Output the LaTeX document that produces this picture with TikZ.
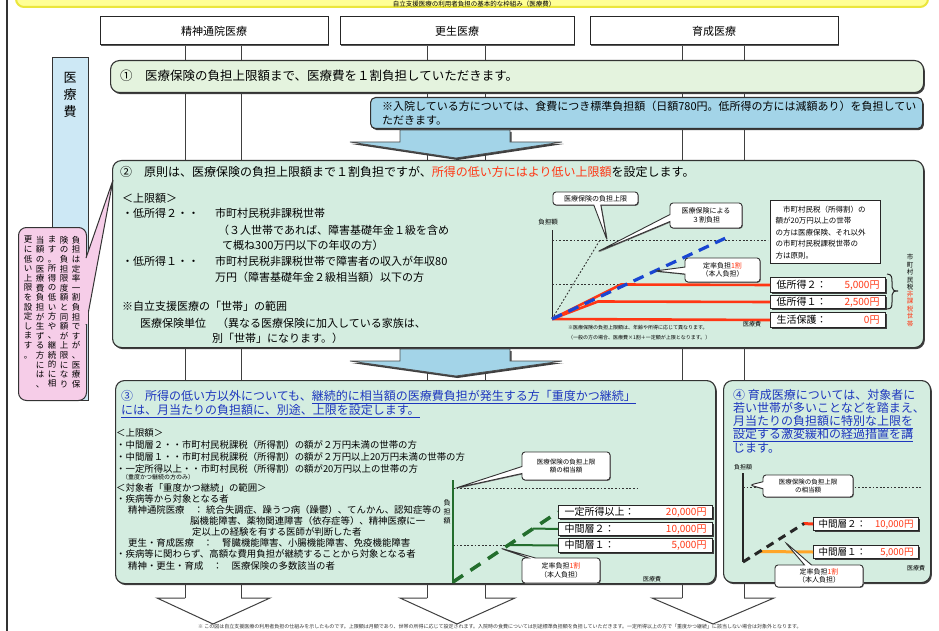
\documentclass[tikz,border=0pt]{standalone}
\usepackage{fontspec}
\setmainfont{Noto Sans CJK JP}
\usetikzlibrary{shapes.callouts,shadows}
\definecolor{mint}{RGB}{212,237,224}
\definecolor{paleg}{RGB}{228,243,222}
\definecolor{lblue}{RGB}{163,212,232}
\definecolor{stripb}{RGB}{205,232,245}
\definecolor{pinkc}{RGB}{246,205,232}
\definecolor{redt}{RGB}{255,55,20}
\definecolor{bluet}{RGB}{30,55,190}
\definecolor{dashb}{RGB}{25,70,210}
\definecolor{dgreen}{RGB}{35,110,45}
\definecolor{bannery}{RGB}{255,255,150}
\definecolor{bannerb}{RGB}{235,230,60}
\definecolor{orng}{RGB}{255,165,40}
\newcommand\fsz[1]{\fontsize{#1}{#1}\selectfont}
\makeatletter
\newtoks\vtxt@toks
\def\vtxtend{VTXTEND}
\newcommand\vtxt[1]{\vtxt@first#1\vtxtend}
\def\vtxt@first#1{\vtxt@toks{#1}\vtxt@a}
\def\vtxt@a#1{\ifx#1\vtxtend\expandafter\vtxt@done\else\vtxt@toks\expandafter{\the\vtxt@toks\\#1}\expandafter\vtxt@a\fi}
\def\vtxt@done{\the\vtxt@toks}
\makeatother
\begin{document}
\begin{tikzpicture}[x=1pt,y=-1pt,
  colline/.style={black!75,line width=1pt},
  panel/.style={draw=black!80,line width=1.1pt,rounded corners=9pt,drop shadow={shadow xshift=1.3pt,shadow yshift=-1.6pt,fill=black!75,opacity=1}},
  hdrbox/.style={draw=black!85,fill=white,line width=1pt,minimum height=28pt,font=\fsz{11},drop shadow={shadow xshift=1pt,shadow yshift=-1.2pt,fill=black!65,opacity=1}},
  txt/.style={anchor=west,inner sep=0pt},
  vstyle/.style={align=center,inner sep=0pt},
  callbox/.style={rectangle callout,draw=black!80,line width=0.9pt,fill=white,rounded corners=3pt,align=center,inner sep=1pt,font=\fontsize{7}{8.5}\selectfont,callout pointer width=7pt,drop shadow={shadow xshift=0.8pt,shadow yshift=-0.8pt,fill=black!60,opacity=1}},
  valbox/.style={draw=black!85,line width=1pt,fill=white,anchor=north west,inner xsep=6pt,inner ysep=0pt,font=\fsz{10},drop shadow={shadow xshift=1.2pt,shadow yshift=-1.2pt,fill=black!75,opacity=1}},
  dotline/.style={black!80,line width=0.9pt,dash pattern=on 1.8pt off 1.8pt},
  bluedash/.style={dashb,line width=3.2pt,dash pattern=on 11pt off 7pt},
  redline/.style={redt,line width=2.6pt},
  greendash/.style={dgreen,line width=3.5pt,dash pattern=on 12pt off 9pt},
  greenline/.style={dgreen,line width=2pt},
  blackdash/.style={black!85,line width=3pt,dash pattern=on 8pt off 6pt},
  bluearrow/.style={fill=lblue,draw=black!70,line width=0.8pt,drop shadow={shadow xshift=1.5pt,shadow yshift=-2pt,fill=black!75,opacity=1}},
  openarrow/.style={black!75,line width=1pt,line join=miter},
]
\useasboundingbox (0,0) rectangle (939,631);
\clip (0,0) rectangle (939,631);
\fill[white] (0,0) rectangle (939,631);

% banner
\node[draw=bannerb,line width=2pt,fill=bannery,rounded corners=8pt,minimum width=912pt,minimum height=40pt,anchor=south west] (banner) at (15,8) {};
\node[anchor=base,inner sep=0pt,font=\fsz{6.5}] (bannertxt) at (474,6.2) {自立支援医療の利用者負担の基本的な枠組み（医療費）};

% frame
\draw[black!80,line width=1.2pt] (7,0) -- (7,631);

% column lines
\foreach \xx in {185,241,427,485,682,744} \draw[colline] (\xx,44) -- (\xx,598);

% headers
\node[hdrbox,minimum width=228pt] (h1) at (214,31) {精神通院医療};
\node[hdrbox,minimum width=234pt] (h2) at (457,31) {更生医療};
\node[hdrbox,minimum width=248pt] (h3) at (714,31) {育成医療};

% strip
\node[draw=black!80,line width=1pt,fill=stripb,minimum width=36pt,minimum height=343pt,anchor=north west,inner sep=0pt] (strip) at (52,57) {};
\node[vstyle,font=\fontsize{13}{17}\selectfont,anchor=north] (striptxt) at (70,72) {\vtxt{医療費}};

% panel 1
\node[panel,fill=paleg,minimum width=813pt,minimum height=32pt,anchor=north west] (p1) at (110,60) {};
\node[txt,font=\fsz{12.5}] (p1t) at (120,76) {①　医療保険の負担上限額まで、医療費を１割負担していただきます。};

\node[panel,fill=lblue,rounded corners=5pt,minimum width=552pt,minimum height=31pt,anchor=north west] (p1b) at (370,97) {};
\node[txt,font=\fsz{11}] (p1bt1) at (382,106) {※入院している方については、食費につき標準負担額（日額780円。低所得の方には減額あり）を負担してい};
\node[txt,font=\fsz{11}] (p1bt2) at (382,120) {ただきます。};

\path[bluearrow] (400,130) -- (510,130) -- (510,142) -- (562,142) -- (456,158) -- (350,142) -- (400,142) -- cycle;

% panel 2
\node[panel,fill=mint,minimum width=811pt,minimum height=187pt,anchor=north west] (p2) at (112,160) {};
\node[txt,font=\fsz{12}] (p2t) at (120,172) {②　原則は、医療保険の負担上限額まで１割負担ですが、\textcolor{redt}{所得の低い方にはより低い上限額}を設定します。};
\node[txt,font=\fsz{11}] (p2a) at (122,198) {＜上限額＞};
\node[txt,font=\fsz{11}] (p2b) at (122,213) {・低所得２・・};
\node[txt,font=\fsz{11}] (p2b2) at (215,213) {市町村民税非課税世帯};
\node[txt,font=\fsz{11}] (p2c) at (218,230) {（３人世帯であれば、障害基礎年金１級を含め};
\node[txt,font=\fsz{11}] (p2d) at (222,245) {て概ね300万円以下の年収の方）};
\node[txt,font=\fsz{11}] (p2e) at (122,261) {・低所得１・・};
\node[txt,font=\fsz{11}] (p2e2) at (215,261) {市町村民税非課税世帯で障害者の収入が年収80};
\node[txt,font=\fsz{11}] (p2f) at (215,277) {万円（障害基礎年金２級相当額）以下の方};
\node[txt,font=\fsz{11}] (p2g) at (122,306) {※自立支援医療の「世帯」の範囲};
\node[txt,font=\fsz{11}] (p2h) at (140,323) {医療保険単位　（異なる医療保険に加入している家族は、};
\node[txt,font=\fsz{11}] (p2i) at (212,338) {別「世帯」になります。）};

% graph 2
\coordinate (o2) at (552,319);
\draw[black!85,line width=1pt] (552,230) -- (o2);
\node[font=\fsz{6.5},inner sep=0pt] (g2y) at (548,222) {負担額};
\draw[dotline] (552,240) -- (768,240);
\draw[dotline] (552,284.5) -- (625,284.5);
\draw[dotline] (o2) -- (600,240);
\node[valbox,text width=103pt,minimum height=15pt] (b2a) at (770,277) {低所得２：\hfill\textcolor{redt}{5,000円}};
\node[valbox,text width=103pt,minimum height=13pt] (b2b) at (770,295) {低所得１：\hfill\textcolor{redt}{2,500円}};
\node[valbox,text width=103pt,minimum height=15pt] (b2c) at (770,312) {生活保護：\hfill\textcolor{redt}{0円}};
\draw[redline] (o2) -- (621,284.5) -- (b2a.west);
\draw[redline] (o2) -- (598,301.5) -- (b2b.west);
\draw[redline] (o2) -- (b2c.west);
\draw[bluedash] (o2) -- (730,236);
\node[callbox,minimum width=85pt,minimum height=13pt,callout absolute pointer={(607,240)}] (c21) at (595.5,198.5) {医療保険の負担上限};
\node[callbox,minimum width=72pt,minimum height=25pt,callout absolute pointer={(597,252)}] (c22) at (706,215.5) {医療保険による\\３割負担};
\node[callbox,minimum width=75pt,minimum height=24pt,callout absolute pointer={(655,271)}] (c23) at (722.5,270) {定率負担\textcolor{redt}{1割}\\（本人負担）};
\node[draw=black!85,line width=1.3pt,fill=white,anchor=north west,minimum width=110pt,minimum height=63pt,text width=100pt,align=left,inner sep=4pt,font=\fontsize{7.5}{11.5}\selectfont] (wb) at (770,200) {　市町村民税（所得割）の\\額が20万円以上の世帯\\の方は医療保険、それ以外\\の市町村民税課税世帯の\\方は原則。};
\draw[black!85,line width=1pt] (887,274) .. controls (892,274) and (892,278) .. (892,282) -- (892,287) .. controls (892,290) and (894,291) .. (898,291) .. controls (894,291) and (892,292) .. (892,295) -- (892,302) .. controls (892,306) and (892,309) .. (887,309);
\node[vstyle,font=\fontsize{6.5}{7.5}\selectfont,anchor=north] (vl1) at (910,254) {\vtxt{市町村民税}};
\node[vstyle,font=\fontsize{6.5}{7.5}\selectfont,anchor=north,text=redt] (vl2) at (vl1.south) {\vtxt{非課税世帯}};
\node[txt,font=\fsz{5}] (g2n1) at (568,328) {※医療保険の負担上限額は、年齢や所得に応じて異なります。};
\node[txt,font=\fsz{5}] (g2n2) at (568,338) {（一般の方の場合、医療費×1割＋一定額が上限となります。）};
\node[font=\fsz{6},inner sep=0pt] (g2x) at (752,324) {医療費};

\path[bluearrow] (400,349) -- (510,349) -- (510,361) -- (562,361) -- (456,376) -- (350,361) -- (400,361) -- cycle;

% panel 3
\node[panel,fill=mint,minimum width=600pt,minimum height=203pt,anchor=north west] (p3) at (115,380) {};
\node[txt,text=bluet,font=\fsz{12}] (p3t1) at (121,397) {③　所得の低い方以外についても、\underline{継続的に相当額の医療費負担が発生する方「重度かつ継続」}};
\node[txt,text=bluet,font=\fsz{12}] (p3t2) at (121,411) {\underline{には、月当たりの負担額に、別途、上限を設定します。}};
\node[txt,font=\fsz{9.4}] (p3a) at (116,433) {＜上限額＞};
\node[txt,font=\fsz{9.4}] (p3b) at (116,445) {・中間層２・・市町村民税課税（所得割）の額が２万円未満の世帯の方};
\node[txt,font=\fsz{9.4}] (p3c) at (116,457) {・中間層１・・市町村民税課税（所得割）の額が２万円以上20万円未満の世帯の方};
\node[txt,font=\fsz{9.4}] (p3d) at (116,469) {・一定所得以上・・市町村民税（所得割）の額が20万円以上の世帯の方};
\node[txt,font=\fsz{6}] (p3e) at (122,477.5) {（重度かつ継続の方のみ）};
\node[txt,font=\fsz{9.4}] (p3f) at (116,488) {＜対象者「重度かつ継続」の範囲＞};
\node[txt,font=\fsz{9.4}] (p3g) at (116,499) {・疾病等から対象となる者};
\node[txt,font=\fsz{9.4}] (p3h) at (128,510) {精神通院医療　：};
\node[txt,font=\fsz{9.4}] (p3h2) at (206,510) {統合失調症、躁うつ病（躁鬱）、てんかん、認知症等の};
\node[txt,font=\fsz{9.4}] (p3i) at (190,521) {脳機能障害、薬物関連障害（依存症等）、精神医療に一};
\node[txt,font=\fsz{9.4}] (p3j) at (192,532) {定以上の経験を有する医師が判断した者};
\node[txt,font=\fsz{9.4}] (p3k) at (128,543) {更生・育成医療　：　腎臓機能障害、小腸機能障害、免疫機能障害};
\node[txt,font=\fsz{9.4}] (p3l) at (116,554) {・疾病等に関わらず、高額な費用負担が継続することから対象となる者};
\node[txt,font=\fsz{9.4}] (p3m) at (128,566) {精神・更生・育成　：　医療保険の多数該当の者};

% graph 3
\draw[dotline] (453,488) -- (638,488);
\draw[dotline] (453,545) -- (520,545);
\draw[dgreen,line width=1.6pt] (453,480) -- (453,583);
\node[vstyle,font=\fontsize{7}{9}\selectfont,anchor=north] (g3y) at (447,499) {\vtxt{負担額}};
\node[valbox,text width=142pt,minimum height=13pt] (b31) at (558,505) {一定所得以上：\hfill\textcolor{redt}{20,000円}};
\node[valbox,text width=142pt,minimum height=13pt] (b32) at (558,522) {中間層２：\hfill\textcolor{redt}{10,000円}};
\node[valbox,text width=142pt,minimum height=14pt] (b33) at (558,538) {中間層１：\hfill\textcolor{redt}{5,000円}};
\draw[greenline] (533,528.5) -- (b32.west);
\draw[greenline] (508,545) -- (b33.west);
\draw[greendash] (453,582) -- (b31.west);
\node[callbox,font=\fontsize{6.5}{8}\selectfont,minimum width=88pt,minimum height=28pt,callout absolute pointer={(456,488)}] (c31) at (566,466) {医療保険の負担上限\\額の相当額};
\node[callbox,minimum width=78pt,minimum height=25pt,callout absolute pointer={(500,548)}] (c32) at (561,570.5) {定率負担\textcolor{redt}{1割}\\（本人負担）};
\node[font=\fsz{6},inner sep=0pt] (g3x) at (652,579) {医療費};

% panel 4
\node[panel,fill=mint,minimum width=207pt,minimum height=202pt,anchor=north west] (p4) at (723,380) {};
\node[txt,text=bluet,font=\fsz{12}] (p4t1) at (733,395) {④ 育成医療については、対象者に};
\node[txt,text=bluet,font=\fsz{12}] (p4t2) at (733,408) {若い世帯が多いことなどを踏まえ、};
\node[txt,text=bluet,font=\fsz{12}] (p4t3) at (733,422) {\underline{月当たりの負担額に特別な上限を}};
\node[txt,text=bluet,font=\fsz{12}] (p4t4) at (733,435) {\underline{設定する激変緩和の経過措置を講}};
\node[txt,text=bluet,font=\fsz{12}] (p4t5) at (733,448) {じます。};

% graph 4
\draw[black!85,line width=1.2pt] (743,473) -- (743,562);
\node[font=\fsz{6},inner sep=0pt] (g4y) at (743,467) {負担額};
\draw[dotline] (743,487) -- (922,487);
\node[valbox,inner xsep=5pt,font=\fsz{9.5},text width=95pt,minimum height=13pt] (b41) at (813,517) {中間層２：\hfill\textcolor{redt}{10,000円}};
\node[valbox,inner xsep=5pt,font=\fsz{9.5},text width=95pt,minimum height=13pt] (b42) at (813,545) {中間層１：\hfill\textcolor{redt}{5,000円}};
\draw[orng,line width=3pt] (760,551.5) -- (b42.west);
\draw[redt,line width=3pt] (803,523.5) -- (b41.west);
\draw[blackdash] (743,562) -- (804,523.5);
\node[callbox,font=\fontsize{6.5}{8}\selectfont,minimum width=90pt,minimum height=22pt,callout absolute pointer={(750,485)}] (c41) at (808,486) {医療保険の負担上限\\の相当額};
\node[callbox,minimum width=88pt,minimum height=22pt,callout absolute pointer={(785,542)}] (c42) at (819,576) {定率負担\textcolor{redt}{1割}\\（本人負担）};
\node[font=\fsz{6},inner sep=0pt] (g4x) at (916,568) {医療費};

% pink callout
\node[draw=black!80,line width=1pt,fill=pinkc,rounded corners=8pt,minimum width=68pt,minimum height=173pt,anchor=north west] (pink) at (18,227) {};
\path[fill=pinkc,draw=black!80,line width=1pt] (86,258) -- (113,180) -- (86,325);
\fill[pinkc] (84.5,259) rectangle (87.5,324);
\node[vstyle,font=\fontsize{8.5}{9.6}\selectfont,anchor=north] (pk1) at (76,236) {\vtxt{負担は定率一割負担ですが、医療保}};
\node[vstyle,font=\fontsize{8.5}{9.6}\selectfont,anchor=north] (pk2) at (64,236) {\vtxt{険の負担限度額と同額が上限になり}};
\node[vstyle,font=\fontsize{8.5}{9.6}\selectfont,anchor=north] (pk3) at (52,236) {\vtxt{ます。所得の低い方や、継続的に相}};
\node[vstyle,font=\fontsize{8.5}{9.6}\selectfont,anchor=north] (pk4) at (40,236) {\vtxt{当額の医療費負担が生ずる方には、}};
\node[vstyle,font=\fontsize{8.5}{9.6}\selectfont,anchor=north] (pk5) at (28,236) {\vtxt{更に低い上限を設定します。}};

% bottom arrows
\draw[openarrow] (185,598) -- (157,598) -- (213,624) -- (270,598) -- (241,598);
\draw[openarrow] (427,598) -- (400,598) -- (457,624) -- (515,598) -- (485,598);
\draw[openarrow] (682,598) -- (652,598) -- (713,624) -- (774,598) -- (744,598);
\node[txt,font=\fsz{5},text=black!80] (foot) at (198,627) {※ この図は自立支援医療の利用者負担の仕組みを示したものです。上限額は月額であり、世帯の所得に応じて設定されます。入院時の食費については別途標準負担額を負担していただきます。一定所得以上の方で「重度かつ継続」に該当しない場合は対象外となります。};
\end{tikzpicture}
\end{document}
